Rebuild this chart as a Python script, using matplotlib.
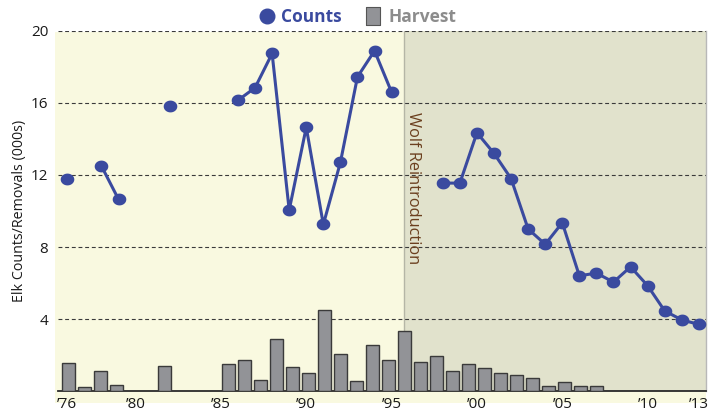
import numpy as np
import matplotlib
matplotlib.use("Agg")
import matplotlib.pyplot as plt
from matplotlib.lines import Line2D
from matplotlib.patches import Rectangle
from matplotlib.path import Path

plt.rcParams['font.family'] = ['Open Sans', 'DejaVu Sans']

# Elk counts (000s), one entry per year 1976-2013, nan where no count
count_years = list(range(1976, 2014))
counts = [11.8, np.nan, 12.5, 10.65, np.nan, np.nan, 15.85, np.nan, np.nan, np.nan,
          16.15, 16.85, 18.75, 10.05, 14.65, 9.25, 12.7, 17.45, 18.9, 16.6,
          np.nan, np.nan, 11.55, 11.55, 14.35, 13.2, 11.8, 9.0, 8.15, 9.35,
          6.4, 6.55, 6.05, 6.9, 5.85, 4.45, 3.95, 3.7]

# Harvest / removals (000s)
harvest_years = [1976, 1977, 1978, 1979, 1982] + list(range(1986, 2010))
harvest = [1.54, 0.22, 1.09, 0.35, 1.39,
           1.5, 1.74, 0.61, 2.91, 1.31, 1.0, 4.52, 2.07, 0.54, 2.54,
           1.72, 3.31, 1.61, 1.96, 1.11, 1.52, 1.26, 1.0, 0.87, 0.74,
           0.30, 0.48, 0.28, 0.30]

ytick_vals = [4, 8, 12, 16, 20]
xtick_years = [1976, 1980, 1985, 1990, 1995, 2000, 2005, 2010, 2013]
xtick_labels = ["\u201976", "\u201980", "\u201985", "\u201990", "\u201995",
                "\u201900", "\u201905", "\u201910", "\u201913"]
wolf_year = 1995.7

BLUE = "#3a4a9f"
YELLOW = "#f9f9e0"
GREEN = "#e1e2cc"

fig = plt.figure(figsize=(7.17, 4.15), dpi=100)
W, H = 717.0, 415.0
pos = [58 / W, 24 / H, 648 / W, 360 / H]

# pale background that also runs under the tick labels
fig.add_artist(Rectangle((55 / W, 12 / H), 651 / W, 371 / H, transform=fig.transFigure,
                         facecolor=YELLOW, edgecolor="none", zorder=0))

# bottom axes: shading, grid, ticks
ax = fig.add_axes(pos, zorder=1)
ax.set_facecolor("none")
ax.set_xlim(1975.455, 2013.42)
ax.set_ylim(0, 20)
ax.axvspan(wolf_year, 2013.42, color=GREEN, lw=0, zorder=0)
ax.axvline(wolf_year, color="#b5b6a6", lw=1.0, zorder=1)
for v in ytick_vals:
    ax.axhline(v, color="#3a3a3a", lw=0.8, ls=(0, (3.5, 2.5)), zorder=2)
ax.set_yticks(ytick_vals)
ax.set_xticks(xtick_years)
ax.set_xticklabels(xtick_labels)
ax.tick_params(axis="both", length=0, labelsize=11, colors="#1a1a1a")
ax.tick_params(axis="y", pad=7)
ax.tick_params(axis="x", pad=4)
for s in ["top", "left"]:
    ax.spines[s].set_visible(False)
ax.spines["bottom"].set_color("#2a2a2a")
ax.spines["bottom"].set_linewidth(1.3)
ax.spines["right"].set_color("#b8b8b8")
ax.spines["right"].set_linewidth(1.0)
ax.text(wolf_year + 0.08, 15.5, "Wolf Reintroduction", rotation=-90, ha="left", va="top",
        fontsize=11.8, color="#6b3f1e")

# bar axes
axb = fig.add_axes(pos, zorder=2)
axb.set_facecolor("none")
axb.bar(harvest_years, harvest, width=0.79, color="#929397", edgecolor="#3a3a3a", linewidth=1.0)
axb.set_xlim(1975.33, 2015.83)
axb.set_ylim(0, 20)
axb.axis("off")

# counts axes
axc = fig.add_axes(pos, zorder=3)
axc.set_facecolor("none")
t = np.linspace(0, 2 * np.pi, 40)
ellipse = Path(np.column_stack([np.cos(t), 0.87 * np.sin(t)]))
axc.plot(count_years, counts, color=BLUE, lw=2.2, marker=ellipse, ms=9.8,
         markeredgewidth=0, markerfacecolor=BLUE)
axc.set_xlim(1975.455, 2013.42)
axc.set_ylim(0, 20)
axc.axis("off")

fig.text(20 / W, 1 - 211 / H, "Elk Counts/Removals (000s)", rotation=90, ha="center", va="center",
         fontsize=10.3, color="#1a1a1a")

# legend
box = [(-0.37, -0.5), (0.37, -0.5), (0.37, 0.5), (-0.37, 0.5), (-0.37, -0.5)]
handles = [Line2D([], [], ls="none", marker="o", ms=10.5, color=BLUE),
           Line2D([], [], ls="none", marker=box, ms=13, markerfacecolor="#929397",
                  markeredgecolor="#555555", markeredgewidth=0.8)]
leg = fig.legend(handles, ["Counts", "Harvest"], loc="center", bbox_to_anchor=(357 / W, 1 - 17 / H),
                 ncol=2, frameon=False, handlelength=1.0, handletextpad=0.35, columnspacing=1.3,
                 prop={"weight": "bold", "size": 12.5})
leg.get_texts()[0].set_color(BLUE)
leg.get_texts()[1].set_color("#8c8c8c")

fig.savefig("out.png", dpi=100)
